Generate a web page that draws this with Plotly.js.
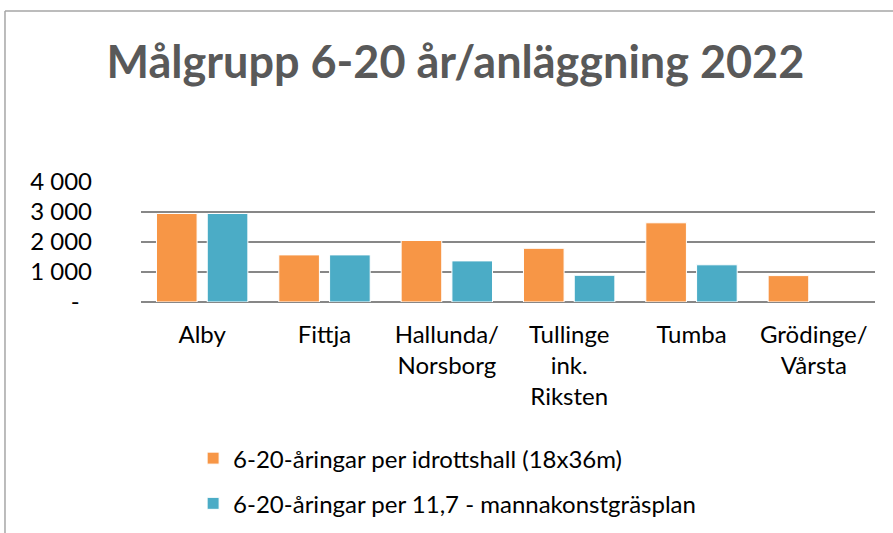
<!DOCTYPE html>
<html>
<head>
<meta charset="utf-8">
<script src="https://cdn.plot.ly/plotly-3.0.1.min.js"></script>
<style>html,body{margin:0;padding:0;background:#fff;}#chart{width:893px;height:533px;}</style>
</head>
<body>
<div id="chart"></div>
<script>
const categories = ["Alby", "Fittja", "Hallunda/<br>Norsborg", "Tullinge<br>ink.<br>Riksten", "Tumba", "Grödinge/<br>Vårsta"];
const seriesNames = ["6-20-åringar per idrottshall (18x36m)", "6-20-åringar per 11,7 - mannakonstgräsplan"];
const hallValues = [2950, 1570, 2050, 1790, 2640, 880];
const planValues = [2950, 1570, 1370, 890, 1240, null];
const yTickVals = [0, 1000, 2000, 3000, 4000];
const yTickText = ["-\u00a0\u00a0", "1 000", "2 000", "3 000", "4 000"];
const colors = ["#F79646", "#4BACC6"];

const FONT = "Lato, 'Open Sans', sans-serif";
const FS = 24;

const traces = [
  {type: "bar", name: seriesNames[0], x: categories, y: hallValues, legendgroup: "a",
   marker: {color: colors[0], line: {color: "#ffffff", width: 1}}, hoverinfo: "y"},
  {type: "bar", name: seriesNames[1], x: categories, y: planValues, legendgroup: "b",
   marker: {color: colors[1], line: {color: "#ffffff", width: 1}}, hoverinfo: "y"}
];

const layout = {
  width: 893, height: 533,
  margin: {l: 141, r: 18, t: 182, b: 231, autoexpand: false},
  paper_bgcolor: "#ffffff", plot_bgcolor: "#ffffff",
  font: {family: FONT, color: "#000000", size: FS},
  title: {text: "<b>Målgrupp 6-20 år/anläggning 2022</b>", font: {family: FONT, size: 45, color: "#595959"},
          x: 0.51, xref: "container", xanchor: "center", y: 1 - 62/533, yref: "container", yanchor: "middle"},
  barmode: "group", bargap: 0.17, bargroupgap: 0.2,
  xaxis: {type: "category", showgrid: false, showline: false, zeroline: false, ticks: "",
          tickfont: {family: FONT, size: FS, color: "#000"}, ticklabelstandoff: 16, fixedrange: true},
  yaxis: {range: [0, 4000], tickvals: yTickVals, ticktext: yTickText, showgrid: true, gridcolor: "#878787", gridwidth: 2,
          zeroline: true, zerolinecolor: "#878787", zerolinewidth: 2, showline: false, ticks: "",
          tickfont: {family: FONT, size: FS, color: "#000"}, ticklabelstandoff: 48, fixedrange: true},
  showlegend: true,
  legend: {orientation: "v", x: 0.071, xanchor: "left", y: -1.117, yanchor: "top", traceorder: "grouped",
           tracegroupgap: 11, font: {family: FONT, size: FS, color: "#000"}, bgcolor: "rgba(0,0,0,0)"},
  shapes: [
    {type: "line", xref: "paper", yref: "paper", x0: -0.1853, x1: -0.1853, y0: 2.425, y1: -2.2, line: {color: "#a6a6a6", width: 1.5}},
    {type: "line", xref: "paper", yref: "paper", x0: -0.1853, x1: 1.1, y0: 2.425, y1: 2.425, line: {color: "#a6a6a6", width: 1.5}}
  ]
};

Plotly.newPlot("chart", traces, layout, {displayModeBar: false, staticPlot: true});
</script>
</body>
</html>
